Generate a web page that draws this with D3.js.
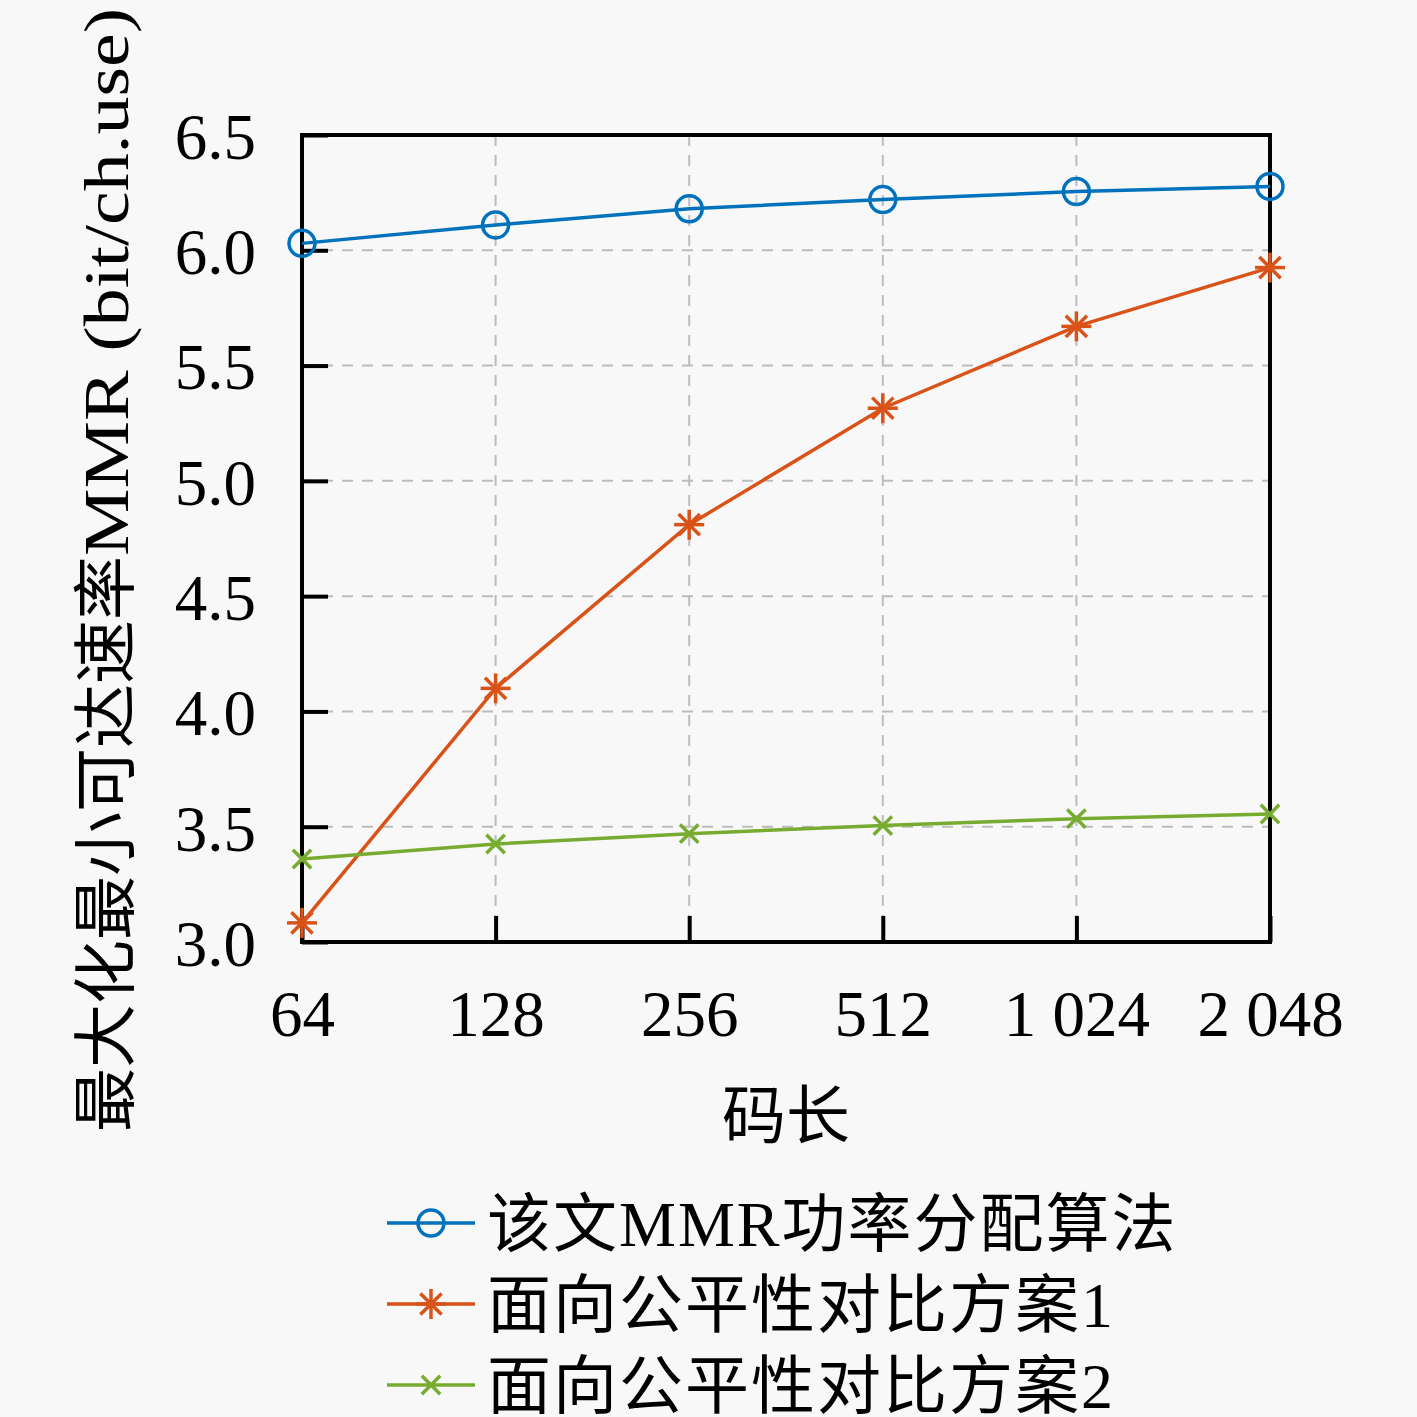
<!DOCTYPE html>
<html>
<head>
<meta charset="utf-8">
<script src="https://cdn.jsdelivr.net/npm/d3@7"></script>
<style>
  html, body { margin: 0; padding: 0; background: #f8f8f8; }
  text { font-family: "Liberation Serif", "Noto Sans CJK SC", serif; fill: #000; }
</style>
</head>
<body>
<div id="chart"></div>
<script>
// data
var codeLengths = [64, 128, 256, 512, 1024, 2048];
var mmrProposed = [6.03, 6.11, 6.18, 6.22, 6.255, 6.277];
var fairScheme1 = [3.083, 4.10, 4.81, 5.315, 5.67, 5.925];
var fairScheme2 = [3.36, 3.425, 3.47, 3.505, 3.535, 3.555];
var yTicks = [3.0, 3.5, 4.0, 4.5, 5.0, 5.5, 6.0, 6.5];
var seriesNames = ["该文MMR功率分配算法", "面向公平性对比方案1", "面向公平性对比方案2"];

var series = [
  { name: seriesNames[0], values: mmrProposed, color: "#0072BD", marker: "circle" },
  { name: seriesNames[1], values: fairScheme1, color: "#D95319", marker: "star" },
  { name: seriesNames[2], values: fairScheme2, color: "#77AC30", marker: "cross" }
];

var W = 1417, H = 1417;
var margin = { left: 302, right: 147, top: 135, bottom: 475 };
var plotW = W - margin.left - margin.right,
    plotH = H - margin.top - margin.bottom;

var svg = d3.select("#chart").append("svg")
  .attr("width", W).attr("height", H);

svg.append("rect").attr("width", W).attr("height", H).attr("fill", "#f8f8f8");

var g = svg.append("g")
  .attr("transform", "translate(" + margin.left + "," + margin.top + ")");

// scales
var xScale = d3.scaleLog().base(2).domain([64, 2048]).range([0, plotW]);
var yScale = d3.scaleLinear().domain([3.0, 6.5]).range([plotH, 0]);

// grid
g.append("g").selectAll("line").data(yTicks.slice(1, -1)).join("line")
  .attr("x1", 0).attr("x2", plotW)
  .attr("y1", function(d) { return yScale(d); })
  .attr("y2", function(d) { return yScale(d); })
  .attr("stroke", "#bcbcbc").attr("stroke-width", 2)
  .attr("stroke-dasharray", "11,9");
g.append("g").selectAll("line").data(codeLengths.slice(1, -1)).join("line")
  .attr("x1", function(d) { return xScale(d); })
  .attr("x2", function(d) { return xScale(d); })
  .attr("y1", 0).attr("y2", plotH)
  .attr("stroke", "#bcbcbc").attr("stroke-width", 2)
  .attr("stroke-dasharray", "11,9");

// axes (ticks inward)
var fmt = function(d) {
  var s = String(d);
  return s.length > 3 ? s.slice(0, s.length - 3) + " " + s.slice(-3) : s;
};
var xAxis = d3.axisBottom(xScale).tickValues(codeLengths)
  .tickSizeInner(-26).tickSizeOuter(0).tickPadding(50).tickFormat(fmt);
var yAxis = d3.axisLeft(yScale).tickValues(yTicks)
  .tickSizeInner(-26).tickSizeOuter(0).tickPadding(46).tickFormat(d3.format(".1f"));

var xAxisEl = g.append("g").attr("transform", "translate(0," + plotH + ")").call(xAxis);
var yAxisEl = g.append("g").call(yAxis);
[xAxisEl, yAxisEl].forEach(function(a) {
  a.select(".domain").remove();
  a.selectAll("line").attr("stroke", "#000").attr("stroke-width", 4);
  a.selectAll("text").style("font-size", "65px")
    .style("font-family", '"Liberation Serif", serif').attr("fill", "#000");
});
yAxisEl.selectAll("text").attr("dy", "0.36em");
xAxisEl.selectAll("text").attr("dy", "0.68em");

// frame
g.append("rect").attr("width", plotW).attr("height", plotH)
  .attr("fill", "none").attr("stroke", "#000").attr("stroke-width", 4);

// markers
function drawMarker(sel, type, color) {
  if (type === "circle") {
    sel.append("circle").attr("r", 13).attr("fill", "none")
      .attr("stroke", color).attr("stroke-width", 3.5);
  } else if (type === "star") {
    var r = 15;
    [0, 45, 90, 135].forEach(function(a) {
      var rad = a * Math.PI / 180;
      sel.append("line")
        .attr("x1", -r * Math.cos(rad)).attr("y1", -r * Math.sin(rad))
        .attr("x2", r * Math.cos(rad)).attr("y2", r * Math.sin(rad))
        .attr("stroke", color).attr("stroke-width", 3.5);
    });
  } else {
    var c = 13;
    [45, 135].forEach(function(a) {
      var rad = a * Math.PI / 180;
      sel.append("line")
        .attr("x1", -c * Math.cos(rad)).attr("y1", -c * Math.sin(rad))
        .attr("x2", c * Math.cos(rad)).attr("y2", c * Math.sin(rad))
        .attr("stroke", color).attr("stroke-width", 3.5);
    });
  }
}

var line = d3.line()
  .x(function(d) { return xScale(d.x); })
  .y(function(d) { return yScale(d.y); });

series.forEach(function(s) {
  var pts = codeLengths.map(function(c, i) { return { x: c, y: s.values[i] }; });
  g.append("path").datum(pts).attr("d", line)
    .attr("fill", "none").attr("stroke", s.color).attr("stroke-width", 3.5);
  pts.forEach(function(p) {
    var m = g.append("g").attr("transform", "translate(" + xScale(p.x) + "," + yScale(p.y) + ")");
    drawMarker(m, s.marker, s.color);
  });
});

// axis titles
svg.append("text")
  .attr("x", margin.left + plotW / 2).attr("y", 1138)
  .attr("text-anchor", "middle")
  .style("font-size", "64px")
  .style("font-family", '"Noto Sans CJK SC", sans-serif')
  .text("码长");

var ylab = svg.append("text")
  .attr("transform", "translate(128,1132) rotate(-90)")
  .attr("text-anchor", "start")
  .style("font-size", "64px");
ylab.append("tspan").text("最大化最小可达速率");
ylab.append("tspan").attr("textLength", 548).attr("lengthAdjust", "spacingAndGlyphs")
  .text("MMR (bit/ch.use)");

// legend
var legend = svg.append("g");
series.forEach(function(s, i) {
  var y = 1223 + i * 81;
  var row = legend.append("g");
  row.append("line").attr("x1", 387).attr("x2", 475).attr("y1", y).attr("y2", y)
    .attr("stroke", s.color).attr("stroke-width", 3.5);
  var m = row.append("g").attr("transform", "translate(431," + y + ")");
  drawMarker(m, s.marker, s.color);
  row.append("text").attr("x", 487).attr("y", y).attr("dy", "0.36em")
    .style("font-size", "64px").style("letter-spacing", "2px").text(s.name);
});
</script>
</body>
</html>
